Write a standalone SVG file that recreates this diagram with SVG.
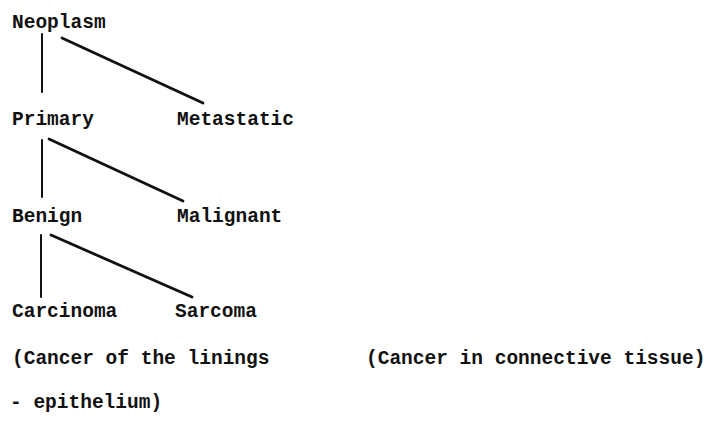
<svg xmlns="http://www.w3.org/2000/svg" width="710" height="422" viewBox="0 0 710 422">
<style>
text{font-family:"Liberation Mono","Courier New",monospace;font-size:19.5px;font-weight:bold;fill:#111;}
.c line{stroke:#111;stroke-linecap:round;}
.v{stroke-width:2;}
.d{stroke-width:2.8;}
</style>
<rect width="710" height="422" fill="#fff"/>
<g id="connectors" class="c">
<line class="v" x1="42" y1="34" x2="42" y2="92"/>
<line class="d" x1="62" y1="38" x2="203" y2="103"/>
<line class="v" x1="42" y1="140" x2="42" y2="197"/>
<line class="d" x1="49" y1="139" x2="183" y2="201"/>
<line class="v" x1="41" y1="235" x2="41" y2="297"/>
<line class="d" x1="51" y1="235" x2="192" y2="297"/>
</g>
<g id="neoplasm"><text x="12" y="28">Neoplasm</text></g>
<g id="primary"><text x="12" y="125">Primary</text></g>
<g id="metastatic"><text x="177" y="125">Metastatic</text></g>
<g id="benign"><text x="12" y="222">Benign</text></g>
<g id="malignant"><text x="177" y="222">Malignant</text></g>
<g id="carcinoma"><text x="12" y="317">Carcinoma</text></g>
<g id="sarcoma"><text x="175" y="317">Sarcoma</text></g>
<g id="carcinoma-note"><text x="12" y="364">(Cancer of the linings</text><text x="10" y="408">- epithelium)</text></g>
<g id="sarcoma-note"><text x="366" y="364">(Cancer in connective tissue)</text></g>
</svg>
